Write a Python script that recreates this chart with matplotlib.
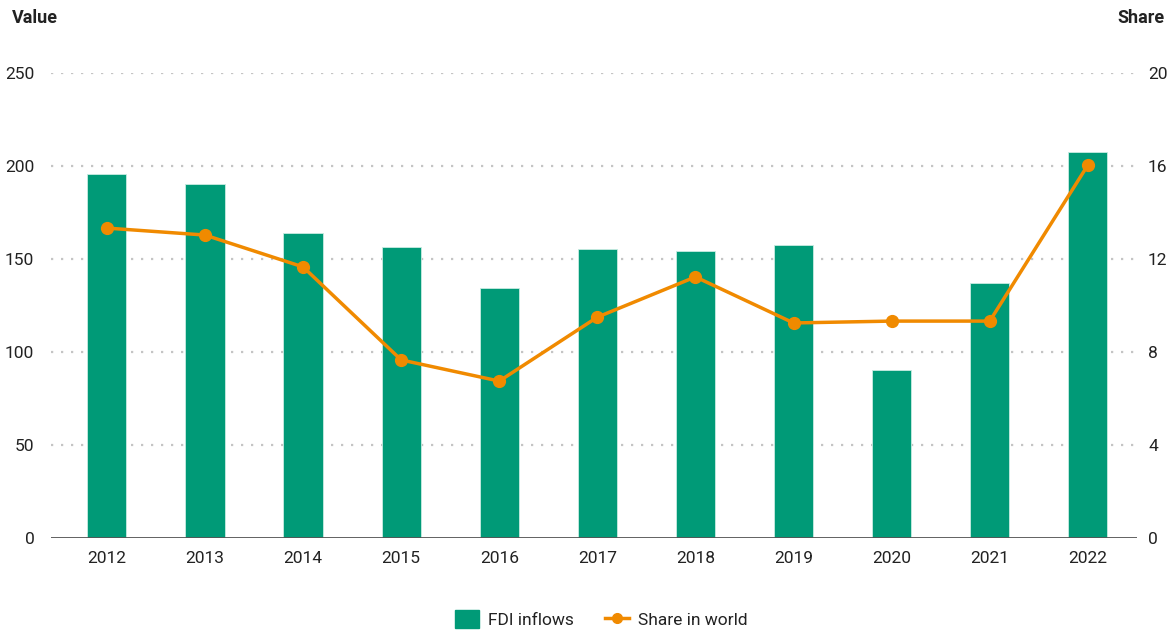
import numpy as np
import matplotlib
matplotlib.use("Agg")
import matplotlib.pyplot as plt
from matplotlib.lines import Line2D
from matplotlib.patches import Patch

plt.rcParams['font.family'] = ['Roboto', 'DejaVu Sans']

years = ['2012', '2013', '2014', '2015', '2016', '2017', '2018', '2019', '2020', '2021', '2022']
fdi_inflows = [195.7, 190.3, 164.0, 156.5, 134.4, 155.4, 154.3, 157.5, 90.3, 137.1, 207.5]
share_in_world = [13.33, 13.03, 11.66, 7.66, 6.75, 9.5, 11.23, 9.25, 9.33, 9.33, 16.04]

green = '#009a77'
orange = '#f08a00'
grid_c = '#c4c4c4'
text_c = '#222222'

fig = plt.figure(figsize=(11.74, 6.33), dpi=100)
ax = fig.add_axes([0.0434, 0.150, 0.925, 0.7347])
ax2 = ax.twinx()

x = np.arange(len(years))
ax.bar(x, fdi_inflows, width=0.4, color=green, edgecolor='#c8ece2', linewidth=0.6, zorder=2)

ax.set_ylim(0, 250)
ax.set_yticks(range(0, 251, 50))
ax.set_xlim(-0.57, 10.5)
ax.set_xticks(x)
ax.set_xticklabels(years)

# dotted grid
for v in range(50, 251, 50):
    ax.axhline(v, color=grid_c, lw=1.6, ls=(0, (1, 3.5)), zorder=1)
ax.axhline(0, color='#555555', lw=1.3, zorder=3)

ax2.plot(x, share_in_world, color=orange, lw=2.5, marker='o', markersize=8.5, zorder=4)
ax2.set_ylim(0, 20)
ax2.set_yticks(range(0, 21, 4))

for a in (ax, ax2):
    for s in a.spines.values():
        s.set_visible(False)
    a.tick_params(length=0, labelsize=12.5, labelcolor=text_c)
ax.tick_params(axis='y', pad=12)
ax.tick_params(axis='x', pad=9)
ax2.tick_params(axis='y', pad=8)
ax.set_zorder(1)
ax2.set_zorder(2)
ax2.patch.set_visible(False)

fig.text(0.010, 0.972, 'Value', fontsize=13, fontweight='bold', color=text_c, va='center', ha='left')
fig.text(0.992, 0.972, 'Share', fontsize=13, fontweight='bold', color=text_c, va='center', ha='right')

handles = [Patch(facecolor=green, edgecolor=green),
           Line2D([0], [0], color=orange, lw=2.5, marker='o', markersize=7)]
fig.legend(handles, ['FDI inflows', 'Share in world'], loc='center', bbox_to_anchor=(0.512, 0.022),
           ncol=2, frameon=False, fontsize=12.5, handlelength=1.4, handleheight=1.2, columnspacing=1.8,
           handletextpad=0.5, labelcolor=text_c)

fig.savefig('out.png', dpi=100)
